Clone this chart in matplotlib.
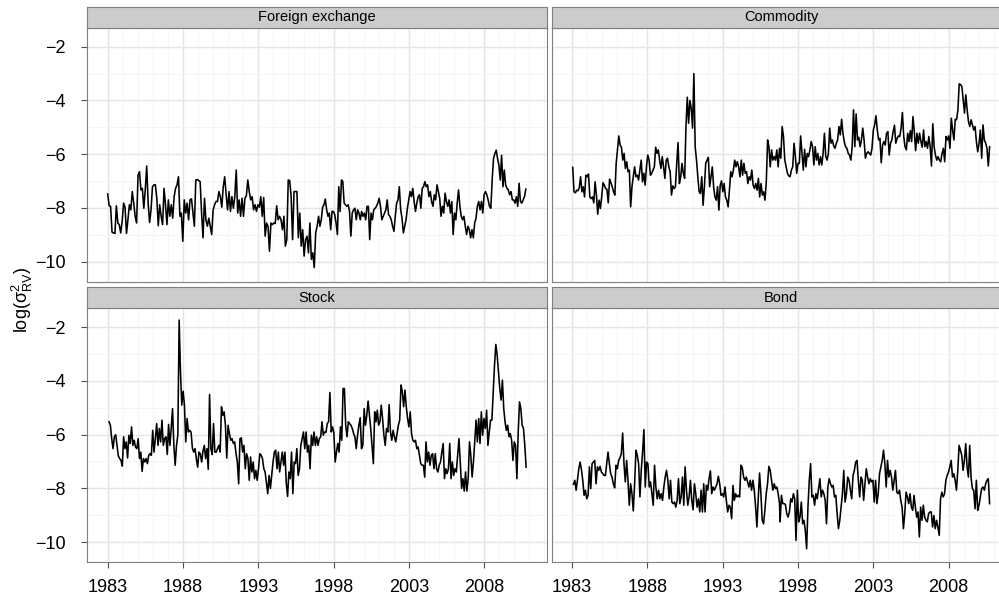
import numpy as np
import matplotlib
matplotlib.use('Agg')
import matplotlib.pyplot as plt

plt.rcParams['font.family'] = ['Liberation Sans', 'DejaVu Sans']
plt.rcParams['mathtext.default'] = 'regular'

# ---------------- data ----------------
panel_titles = ['Foreign exchange', 'Commodity', 'Stock', 'Bond']
year_ticks = [1983, 1988, 1993, 1998, 2003, 2008]
year_tick_labels = ['1983', '1988', '1993', '1998', '2003', '2008']
y_ticks = [-10, -8, -6, -4, -2]
y_tick_labels = ['\u221210', '\u22128', '\u22126', '\u22124', '\u22122']
y_label = r'log($σ^{2}_{RV}$)'

# Foreign exchange, 1983.0 - 1997.0
fx_early = [-7.48, -7.92, -7.94, -8.90, -8.93, -8.95, -7.92, -8.56, -8.62, -8.93,
            -8.50, -7.82, -7.97, -8.95, -8.44, -7.88, -8.07, -7.39, -7.82, -8.31,
            -8.56, -6.78, -6.65, -7.33, -7.27, -8.01, -7.33, -6.44, -7.82, -8.54,
            -8.07, -7.21, -7.14, -7.14, -7.64, -8.66, -7.88, -8.31, -8.62, -7.27,
            -7.88, -8.62, -7.70, -8.31, -7.88, -8.38, -7.58, -7.27, -7.14, -6.84,
            -8.31, -8.19, -9.24, -7.70, -8.19, -7.82, -8.44, -7.70, -7.66, -8.19,
            -8.68, -6.96, -6.94, -6.98, -7.02, -8.19, -9.11, -7.64, -8.44, -8.68,
            -8.38, -8.68, -8.99, -8.07, -7.88, -7.76, -7.76, -7.39, -7.58, -7.97,
            -7.21, -6.84, -7.51, -8.07, -7.39, -8.13, -7.58, -8.01, -7.58, -6.59,
            -8.19, -7.70, -8.31, -7.64, -8.31, -7.64, -7.55, -6.96, -7.39, -7.70,
            -7.58, -8.07, -7.88, -8.13, -7.88, -7.97, -7.58, -8.31, -7.61, -9.05,
            -8.56, -8.68, -9.61, -8.56, -8.62, -8.56, -8.58, -7.92, -8.44, -8.31,
            -8.44, -8.81, -8.31, -9.42, -9.18, -6.96, -6.98, -7.58, -9.18, -7.39,
            -7.39, -7.39, -9.11, -8.19, -9.42, -8.81, -9.79, -9.18, -9.05, -9.67,
            -8.56, -9.91, -9.67, -10.22, -8.93, -8.68, -8.31]
# Foreign exchange, 1997.1 - 2010.75
fx_late = [-8.68, -8.44, -7.97, -7.88, -7.67, -8.07, -8.31, -8.19, -8.81, -8.13,
           -8.13, -8.25, -8.56, -8.99, -7.21, -8.13, -6.96, -7.02, -7.82, -7.88,
           -7.94, -7.88, -8.13, -9.05, -8.19, -8.07, -8.01, -8.44, -8.07, -8.19,
           -8.44, -8.13, -8.31, -8.19, -8.44, -7.94, -7.94, -9.18, -8.19, -8.44,
           -8.07, -8.01, -7.94, -7.82, -7.64, -7.94, -8.44, -8.31, -8.19, -8.07,
           -7.70, -8.25, -8.31, -8.44, -8.68, -8.87, -8.31, -7.82, -7.70, -7.21,
           -8.07, -8.38, -8.93, -8.68, -8.44, -8.01, -7.70, -7.39, -7.58, -7.27,
           -7.76, -8.13, -7.82, -7.58, -7.51, -8.01, -7.27, -7.21, -7.02, -7.21,
           -7.14, -7.58, -7.39, -7.76, -7.94, -7.51, -7.70, -7.14, -7.39, -7.64,
           -8.31, -7.94, -8.19, -7.45, -7.76, -7.94, -7.70, -8.19, -7.76, -8.99,
           -8.19, -8.44, -7.82, -7.33, -7.94, -8.31, -8.44, -8.31, -8.68, -8.99,
           -8.68, -8.81, -9.11, -8.81, -9.11, -8.56, -8.38, -7.94, -7.76, -8.07,
           -7.76, -8.19, -7.51, -7.39, -7.51, -7.70, -7.94, -8.01, -6.96, -6.16,
           -5.98, -5.85, -6.16, -6.41, -6.96, -6.04, -7.21, -6.59, -7.14, -7.27,
           -7.33, -7.51, -7.39, -7.70, -7.70, -7.82, -7.58, -7.94, -7.08, -7.76,
           -7.82, -7.70, -7.58, -7.30]

# Commodity
com_early = [-6.49, -7.40, -7.44, -7.34, -7.36, -7.24, -6.84, -7.40, -7.21, -7.59,
             -6.78, -6.84, -6.74, -7.59, -7.65, -7.59, -7.81, -7.03, -7.52, -8.23,
             -7.71, -8.02, -7.59, -7.06, -7.15, -7.28, -7.31, -7.81, -6.93, -7.06,
             -7.21, -7.40, -7.52, -6.34, -5.84, -5.32, -5.66, -5.74, -6.22, -5.97,
             -6.53, -6.28, -6.65, -6.59, -7.96, -7.21, -6.84, -6.47, -6.84, -6.78,
             -6.96, -6.59, -6.22, -7.03, -6.71, -7.15, -6.47, -6.03, -6.22, -6.78,
             -6.71, -6.59, -6.47, -5.74, -5.97, -5.84, -6.22, -6.53, -6.09, -6.47,
             -6.90, -6.22, -6.15, -6.47, -6.65, -7.52, -7.18, -7.28, -7.21, -6.34,
             -5.57, -7.09, -6.84, -6.34, -6.71, -6.90, -4.97, -3.88, -4.85, -4.00,
             -4.29, -5.03, -3.00, -5.72, -6.22, -6.84, -7.40, -7.46, -6.84, -7.90,
             -7.21, -6.34, -6.22, -6.12, -7.21, -6.84, -6.47, -7.21, -7.59, -7.71,
             -7.21, -8.08, -7.15, -6.99, -7.40, -7.09, -7.59, -7.71, -7.96, -7.34,
             -6.65, -6.84, -6.59, -6.22, -6.47, -6.28, -6.47, -6.84, -6.22, -6.78,
             -6.34, -6.71, -6.65, -7.09, -6.84, -6.96, -6.59, -7.15, -7.28, -7.09,
             -7.34, -6.90, -7.59, -7.09, -7.52, -7.40, -7.71, -7.03, -5.47, -5.72,
             -6.47, -5.84, -6.22, -6.09, -6.22, -5.84, -6.47]
com_late = [-5.78, -6.15, -4.97, -5.34, -6.22, -6.47, -6.71, -6.81, -6.84, -6.59,
            -6.47, -5.59, -6.09, -6.71, -6.34, -6.34, -5.32, -5.97, -6.59, -5.82,
            -6.47, -5.97, -6.09, -5.84, -5.53, -5.72, -6.40, -5.72, -6.22, -5.97,
            -6.40, -6.09, -6.40, -5.97, -5.22, -6.09, -6.22, -5.97, -5.03, -5.59,
            -5.47, -5.69, -5.78, -5.59, -5.47, -4.97, -5.28, -4.70, -5.22, -5.53,
            -5.72, -5.78, -5.97, -6.03, -6.22, -5.72, -4.35, -5.72, -4.50, -5.47,
            -5.37, -5.72, -5.47, -5.03, -5.47, -6.15, -5.97, -5.91, -5.97, -6.03,
            -5.78, -5.10, -4.91, -4.57, -5.10, -5.47, -5.41, -6.32, -5.66, -5.53,
            -5.66, -5.22, -5.16, -6.03, -5.59, -5.47, -5.16, -4.92, -5.59, -5.41,
            -5.32, -5.34, -5.03, -4.45, -5.34, -5.72, -5.84, -5.22, -5.53, -5.12,
            -5.53, -4.60, -5.16, -5.87, -5.22, -5.59, -5.22, -5.53, -5.74, -5.10,
            -5.72, -5.53, -5.78, -5.34, -5.72, -6.44, -4.87, -5.72, -6.03, -6.22,
            -6.09, -6.22, -6.28, -5.97, -5.78, -6.28, -5.34, -5.47, -5.32, -5.78,
            -4.66, -5.10, -5.47, -4.70, -4.72, -4.35, -3.38, -3.41, -3.48, -3.98,
            -4.47, -3.79, -4.35, -4.78, -4.97, -4.72, -4.91, -5.10, -4.97, -5.53,
            -5.91, -5.59, -5.10, -6.15, -4.91, -5.47, -5.59, -5.78, -6.44, -5.72]

# Stock
stk_early = [-5.52, -5.65, -6.15, -6.52, -6.08, -6.00, -6.40, -6.79, -6.89, -6.96,
             -7.17, -6.08, -6.52, -6.27, -6.87, -6.02, -6.33, -5.71, -6.40, -6.21,
             -6.46, -6.52, -6.15, -6.89, -6.65, -7.37, -6.89, -7.02, -6.89, -7.08,
             -6.77, -6.71, -6.77, -5.84, -6.65, -6.15, -5.59, -6.40, -5.77, -6.27,
             -5.46, -6.40, -6.15, -6.08, -6.74, -5.62, -6.40, -5.77, -5.03, -6.40,
             -7.14, -6.40, -6.02, -1.73, -3.66, -4.90, -4.38, -4.90, -6.27, -5.40,
             -5.90, -5.84, -5.90, -6.50, -6.65, -6.52, -6.89, -7.21, -6.65, -6.71,
             -7.02, -6.62, -6.40, -6.89, -6.52, -7.29, -4.50, -6.52, -6.74, -5.59,
             -6.65, -6.65, -6.52, -6.40, -6.65, -4.96, -5.28, -5.15, -5.65, -6.87,
             -5.65, -5.96, -6.21, -6.15, -6.33, -6.27, -6.71, -7.02, -7.83, -6.15,
             -6.12, -6.65, -6.40, -7.27, -6.71, -6.89, -7.70, -6.83, -7.39, -7.02,
             -7.64, -7.33, -7.70, -7.27, -6.71, -6.77, -6.89, -7.27, -7.39, -7.80,
             -8.20, -7.52, -8.00, -7.52, -7.02, -6.65, -6.58, -7.27, -6.65, -7.39,
             -7.02, -6.65, -7.14, -6.65, -7.80, -8.30, -7.39, -7.64, -6.65, -8.20,
             -7.02, -7.08, -6.52, -7.52, -7.27, -6.40, -6.15, -5.90, -6.52, -5.90,
             -6.65, -6.40, -7.27, -6.02, -6.40, -5.90, -6.40, -6.08, -6.40, -6.15]
stk_late = [-6.08, -5.52, -6.02, -5.90, -5.92, -5.59, -5.52, -4.43, -5.90, -5.71,
            -5.92, -7.02, -6.65, -6.33, -6.65, -5.71, -6.21, -4.28, -4.28, -5.65,
            -6.08, -5.52, -5.59, -5.65, -5.77, -5.96, -6.08, -6.52, -6.02, -5.65,
            -5.37, -6.52, -6.40, -5.03, -5.65, -5.28, -4.75, -5.28, -5.77, -6.40,
            -7.08, -5.15, -5.52, -5.09, -5.65, -5.52, -4.90, -5.40, -6.02, -6.40,
            -5.77, -5.90, -4.88, -5.90, -6.21, -5.84, -6.08, -6.27, -5.96, -5.65,
            -5.46, -4.15, -4.40, -4.96, -4.34, -4.96, -5.40, -5.71, -5.15, -5.96,
            -6.21, -6.27, -6.21, -6.52, -6.46, -6.77, -7.08, -7.14, -7.14, -7.58,
            -6.27, -7.02, -6.65, -7.14, -6.77, -6.71, -7.27, -6.71, -7.27, -7.39,
            -7.14, -7.02, -6.65, -6.33, -7.64, -7.27, -7.45, -7.27, -6.33, -7.64,
            -7.02, -7.52, -7.27, -7.39, -6.77, -6.15, -7.02, -8.00, -7.64, -8.10,
            -7.39, -8.10, -7.64, -6.27, -6.77, -7.58, -7.02, -6.27, -5.46, -6.27,
            -5.40, -6.33, -5.15, -6.02, -5.40, -5.77, -5.09, -6.40, -5.90, -5.46,
            -5.46, -4.40, -3.41, -2.64, -3.03, -3.66, -4.28, -4.71, -3.97, -5.03,
            -5.52, -5.84, -5.65, -6.08, -5.96, -6.21, -6.96, -6.27, -6.40, -7.64,
            -5.90, -4.78, -5.03, -5.65, -5.77, -6.40, -7.21]

# Bond
bnd_early = [-7.85, -7.70, -8.07, -7.70, -7.27, -7.02, -7.30, -7.70, -8.26, -8.07,
             -8.39, -8.26, -7.20, -8.01, -7.08, -7.02, -6.96, -7.83, -7.20, -7.33,
             -7.18, -7.39, -7.45, -7.52, -7.52, -7.08, -6.65, -7.08, -7.45, -7.58,
             -7.83, -7.98, -7.14, -7.27, -6.96, -6.86, -6.71, -5.94, -7.08, -7.76,
             -6.96, -7.70, -8.63, -7.83, -8.20, -8.84, -7.83, -6.58, -6.77, -7.08,
             -8.32, -7.33, -6.65, -5.81, -7.95, -7.02, -7.08, -7.95, -7.76, -8.20,
             -8.63, -7.14, -7.95, -8.39, -8.07, -8.39, -8.20, -8.45, -7.95, -7.58,
             -7.33, -7.70, -8.39, -7.70, -8.51, -8.57, -8.51, -8.70, -8.45, -7.64,
             -8.57, -8.32, -7.58, -8.63, -7.20, -8.07, -8.63, -8.32, -7.70, -8.45,
             -8.80, -7.83, -8.20, -8.70, -8.39, -8.88, -8.07, -8.88, -7.83, -8.88,
             -7.89, -8.07, -7.64, -7.35, -8.20, -7.95, -8.07, -7.95, -7.83, -7.55,
             -7.83, -8.26, -8.20, -8.32, -7.95, -8.45, -8.88, -8.63, -8.70, -9.13,
             -7.89, -8.45, -8.20, -8.32, -8.26, -8.32, -7.14, -7.23, -7.58, -7.70,
             -7.58, -7.76, -7.95, -7.70, -8.07, -7.70, -8.07, -8.67, -9.44, -8.39,
             -7.43, -8.20, -9.19, -9.32, -8.82, -8.20, -7.83, -7.18, -7.33, -7.70,
             -8.07, -7.83, -8.01, -7.95, -8.20, -8.57]
bnd_late = [-9.25, -8.26, -8.57, -8.57, -8.60, -8.94, -9.07, -8.88, -8.39, -8.51,
            -8.20, -8.39, -9.94, -8.07, -9.25, -9.07, -8.51, -9.32, -9.19, -9.57,
            -10.25, -8.70, -7.70, -7.08, -8.32, -8.26, -8.63, -8.20, -8.39, -8.01,
            -7.64, -8.32, -8.07, -8.20, -8.45, -9.32, -7.95, -7.64, -7.83, -7.95,
            -7.89, -8.32, -8.26, -8.94, -9.50, -9.19, -8.70, -8.20, -7.33, -8.51,
            -8.20, -7.58, -7.70, -8.07, -8.39, -7.52, -7.33, -7.02, -6.96, -7.70,
            -8.32, -7.58, -7.70, -8.45, -7.83, -7.27, -7.58, -7.83, -7.64, -7.76,
            -7.70, -8.51, -7.70, -8.57, -8.20, -7.45, -7.20, -6.96, -6.58, -7.08,
            -7.95, -6.96, -7.58, -7.33, -7.58, -8.07, -7.70, -7.33, -8.14, -8.20,
            -8.07, -8.45, -8.70, -9.50, -8.94, -8.14, -8.32, -8.57, -8.20, -8.70,
            -8.82, -8.26, -8.70, -9.07, -8.88, -9.81, -8.70, -9.19, -8.63, -9.07,
            -9.19, -9.25, -8.94, -8.88, -8.88, -9.44, -9.01, -9.50, -9.19, -9.44,
            -9.75, -8.39, -8.14, -8.32, -8.20, -7.70, -7.52, -7.39, -7.20, -6.96,
            -7.58, -7.45, -7.70, -8.07, -7.33, -6.40, -6.58, -6.77, -7.33, -6.96,
            -6.34, -7.20, -7.58, -6.40, -7.58, -8.01, -8.07, -8.76, -7.70, -8.82,
            -8.63, -8.32, -8.01, -7.95, -8.07, -7.83, -7.70, -7.64, -8.57]

# date spans (decimal years) of the two halves of every series
spans = {
    'Foreign exchange': ((1983.00, 1997.00), (1997.09, 2010.76)),
    'Commodity':        ((1983.04, 1996.68), (1996.77, 2010.72)),
    'Stock':            ((1983.09, 1997.05), (1997.14, 2010.78)),
    'Bond':             ((1983.09, 1996.77), (1996.81, 2010.72)),
}
series = {
    'Foreign exchange': (fx_early, fx_late),
    'Commodity': (com_early, com_late),
    'Stock': (stk_early, stk_late),
    'Bond': (bnd_early, bnd_late),
}

# ---------------- layout ----------------
W, H = 999, 596
fig = plt.figure(figsize=(W / 100, H / 100), dpi=100)
fig.patch.set_facecolor('white')

panel_w = 459.3
lefts = [87.3, 551.7]
tops = [27.7, 308.3]
panel_h = [254.0, 253.7]
strip_h = 21.0

xlim = (1981.645, 2012.14)
ylim = (-10.744, -1.293)
minor_years = [y for y in range(1984, 2013) if y not in year_ticks]
minor_y = [-9, -7, -5, -3]

BORDER = '#7f7f7f'
for i, name in enumerate(panel_titles):
    row, col = divmod(i, 2)
    x0 = lefts[col]
    top = tops[row]
    ph = panel_h[row]
    ax = fig.add_axes([x0 / W, (H - top - ph) / H, panel_w / W, ph / H])
    ax.set_facecolor('white')
    ax.set_xlim(*xlim)
    ax.set_ylim(*ylim)
    ax.set_xticks(year_ticks)
    ax.set_xticks(minor_years, minor=True)
    ax.set_yticks(y_ticks)
    ax.set_yticks(minor_y, minor=True)
    ax.grid(which='major', color='#e5e5e5', lw=1.0, zorder=0)
    ax.grid(which='minor', color='#f5f5f5', lw=0.7, zorder=0)
    ax.set_axisbelow(True)
    for sp in ax.spines.values():
        sp.set_color(BORDER)
        sp.set_linewidth(0.8)
    ax.tick_params(which='minor', length=0)
    if row == 1:
        ax.set_xticklabels(year_tick_labels)
        ax.tick_params(axis='x', which='major', length=4.3, width=0.8,
                       color='#4d4d4d', labelsize=13, pad=8, labelcolor='black')
    else:
        ax.tick_params(axis='x', which='major', length=0, labelbottom=False)
    if col == 0:
        ax.set_yticklabels(y_tick_labels)
        ax.tick_params(axis='y', which='major', length=4.3, width=0.8,
                       color='#4d4d4d', labelsize=13, pad=11, labelcolor='black')
    else:
        ax.tick_params(axis='y', which='major', length=0, labelleft=False)

    early, late = series[name]
    (a0, a1), (b0, b1) = spans[name]
    t = np.concatenate([np.linspace(a0, a1, len(early)),
                        np.linspace(b0, b1, len(late))])
    v = np.concatenate([early, late])
    ax.plot(t, v, color='black', lw=1.15, solid_joinstyle='round', zorder=3)

    # facet strip
    sax = fig.add_axes([x0 / W, (H - top + 0.0) / H, panel_w / W, strip_h / H])
    sax.set_facecolor('#cccccc')
    sax.set_xticks([])
    sax.set_yticks([])
    for sp in sax.spines.values():
        sp.set_color(BORDER)
        sp.set_linewidth(0.8)
    sax.text(0.5, 0.5, name, ha='center', va='center', fontsize=10.5,
             color='black', transform=sax.transAxes)
    if col == 1:
        # text is centred on the full strip; the figure edge crops the strip
        pass

fig.text(22 / W, (H - 300) / H, y_label, rotation=90, ha='center', va='center',
         fontsize=13, color='black')

fig.savefig('out.png', dpi=100, facecolor='white')
